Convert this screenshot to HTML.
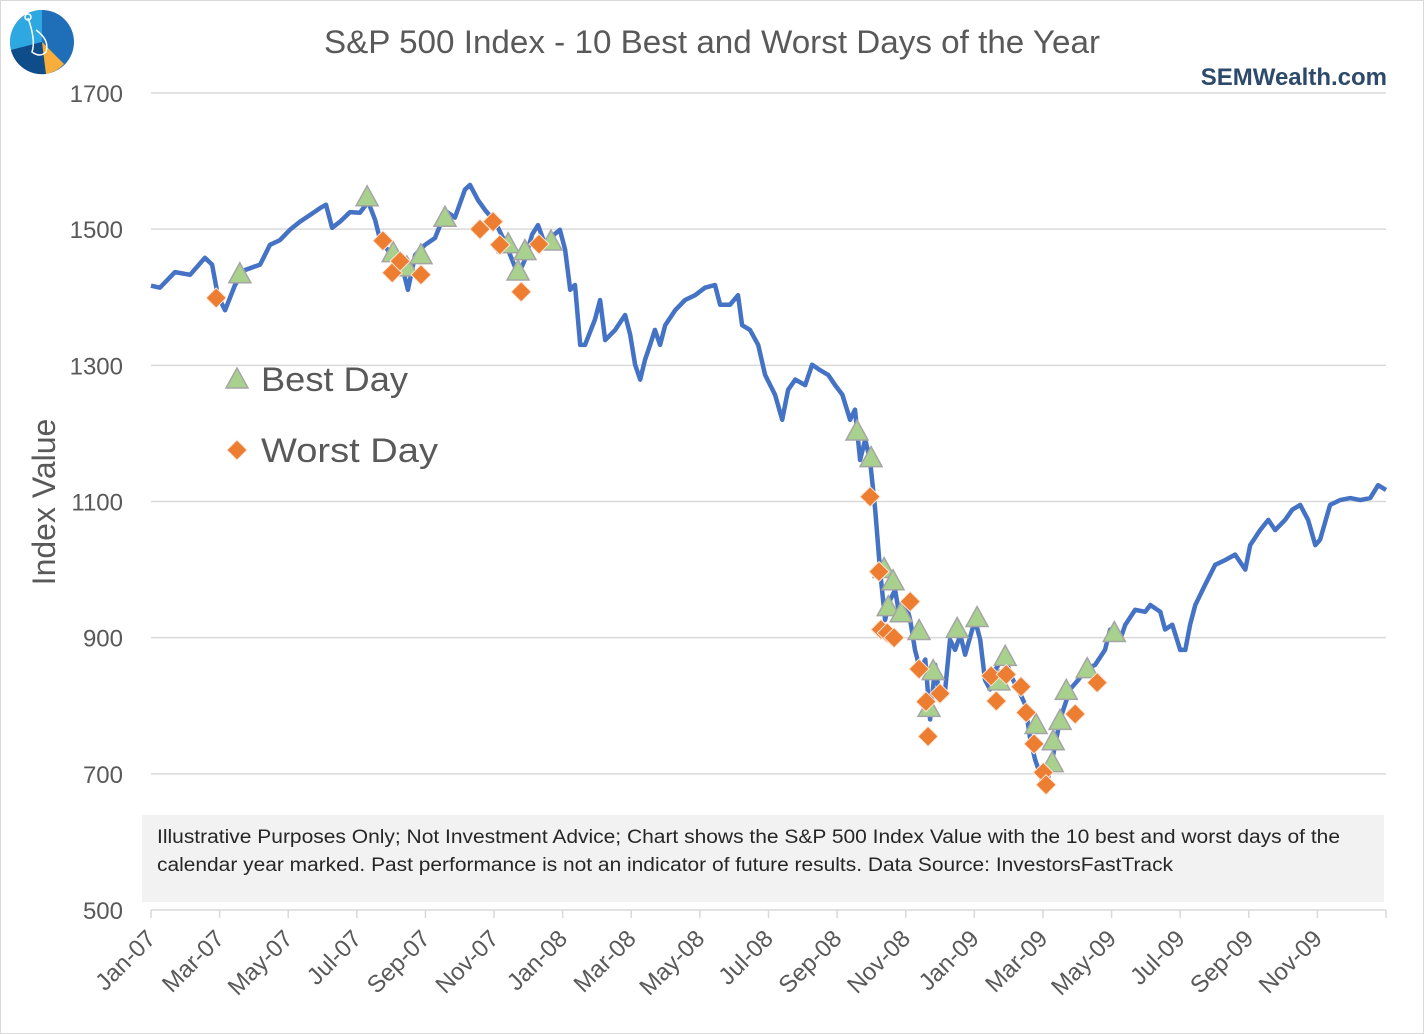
<!DOCTYPE html>
<html><head><meta charset="utf-8"><style>
html,body{margin:0;padding:0;background:#fff;}
svg{display:block;font-family:"Liberation Sans",sans-serif;}
</style></head><body>
<svg id="chart" width="1424" height="1034" viewBox="0 0 1424 1034" xmlns="http://www.w3.org/2000/svg">
<rect x="0.5" y="0.5" width="1423" height="1033" fill="#fff" stroke="#d9d9d9"/>
<g>
<circle cx="42" cy="42" r="32" fill="#1f6fb8"/>
<path d="M42 42 L42 10 A32 32 0 0 0 11 50 Z" fill="#2ea8e0"/>
<path d="M42 42 L11 50 A32 32 0 0 0 46 74 Z" fill="#0f4c8a"/>
<path d="M42 42 L46 74 A32 32 0 0 0 64 64 Z" fill="#f9ae3b"/>
<path d="M28 18 Q36 40 32 52 Q40 58 46 52 Q50 40 36 30" fill="none" stroke="#fff" stroke-width="1.5"/>
<circle cx="28" cy="17" r="3" fill="none" stroke="#fff" stroke-width="1.5"/>
</g>
<text x="712" y="53" text-anchor="middle" font-size="32" fill="#595959" textLength="776" lengthAdjust="spacingAndGlyphs">S&amp;P 500 Index - 10 Best and Worst Days of the Year</text>
<text x="1387" y="85" text-anchor="end" font-size="24" font-weight="bold" fill="#2e4a6b">SEMWealth.com</text>
<text transform="translate(55,502) rotate(-90)" text-anchor="middle" font-size="32" fill="#595959">Index Value</text>
<g id="grid"></g>
<g id="yticks"></g>
<g id="xaxis"></g>
<rect x="142" y="815" width="1242" height="87" fill="#f2f2f2"/>
<text x="157" y="843" font-size="19" fill="#262626" textLength="1183" lengthAdjust="spacingAndGlyphs">Illustrative Purposes Only; Not Investment Advice; Chart shows the S&amp;P 500 Index Value with the 10 best and worst days of the</text>
<text x="157" y="871" font-size="19" fill="#262626" textLength="1016" lengthAdjust="spacingAndGlyphs">calendar year marked.  Past performance is not an indicator of future results. Data Source: InvestorsFastTrack</text>
<g id="series"></g>
<g id="markers"></g>
<g>
<polygon points="237,368 248,388 226,388" fill="#a9d18e" stroke="#a5a5a5" stroke-width="1.5"/>
<text x="261" y="391" font-size="34" fill="#595959" textLength="147" lengthAdjust="spacingAndGlyphs">Best Day</text>
<polygon points="237,440 247,450 237,460 227,450" fill="#ed7d31" stroke="#fbe5d6" stroke-width="1"/>
<text x="261" y="462" font-size="34" fill="#595959" textLength="177" lengthAdjust="spacingAndGlyphs">Worst Day</text>
</g>
</svg>
<script>
const yTicks=[500,700,900,1100,1300,1500,1700];
const xLabels=["Jan-07","Mar-07","May-07","Jul-07","Sep-07","Nov-07","Jan-08","Mar-08","May-08","Jul-08","Sep-08","Nov-08","Jan-09","Mar-09","May-09","Jul-09","Sep-09","Nov-09"];
// months since Jan-2007
const lineMonths=[0,0.26,0.70,1.14,1.57,1.78,1.95,2.16,2.45,2.74,3.18,3.47,3.76,4.05,4.34,4.64,4.93,5.10,5.28,5.51,5.80,6.09,6.33,6.53,6.68,6.97,7.26,7.49,7.70,7.99,8.28,8.43,8.63,8.86,9.15,9.30,9.53,9.74,10.03,10.26,10.47,10.70,10.90,11.11,11.28,11.49,11.63,11.92,12.07,12.22,12.36,12.51,12.65,12.94,13.09,13.24,13.53,13.82,13.97,14.11,14.26,14.40,14.55,14.69,14.84,14.99,15.28,15.57,15.86,16.15,16.44,16.59,16.88,17.11,17.23,17.46,17.70,17.90,18.19,18.40,18.57,18.78,19.07,19.27,19.50,19.74,19.94,20.15,20.38,20.52,20.67,20.82,20.96,21.11,21.25,21.40,21.55,21.69,21.84,21.98,22.13,22.27,22.42,22.57,22.71,22.86,23.00,23.15,23.29,23.44,23.59,23.73,24.02,24.17,24.31,24.46,24.61,24.90,25.04,25.28,25.48,25.63,25.77,25.92,26.06,26.21,26.36,26.50,26.79,27.03,27.23,27.52,27.81,27.96,28.25,28.40,28.69,28.98,29.13,29.42,29.56,29.77,30.00,30.15,30.29,30.44,30.73,31.02,31.31,31.60,31.90,32.04,32.33,32.57,32.77,33.06,33.27,33.50,33.73,33.94,34.08,34.37,34.66,34.96,35.25,35.54,35.77,36.00];
const lineValues=[1417,1414,1437,1433,1458,1448,1402,1381,1418,1440,1448,1477,1484,1499,1511,1521,1531,1536,1502,1511,1525,1524,1540,1514,1484,1465,1458,1411,1462,1477,1487,1506,1525,1517,1558,1565,1543,1528,1511,1487,1462,1433,1455,1492,1506,1477,1487,1499,1470,1411,1418,1330,1330,1367,1396,1337,1352,1374,1345,1301,1279,1308,1330,1352,1330,1359,1381,1396,1403,1414,1418,1389,1389,1403,1359,1352,1330,1286,1257,1220,1264,1279,1271,1301,1293,1286,1271,1257,1220,1235,1161,1191,1161,1088,1000,926,956,970,926,956,926,882,853,868,780,860,809,824,897,882,904,875,926,897,838,824,853,875,846,824,802,750,721,699,677,706,743,780,824,838,853,860,882,912,897,919,941,938,948,938,912,919,882,882,919,948,978,1007,1014,1022,1000,1036,1058,1073,1058,1073,1088,1095,1073,1036,1044,1095,1102,1105,1102,1105,1124,1117];
const bestMonths=[2.59,6.30,7.06,7.46,7.87,8.57,10.41,10.70,10.90,11.66,20.58,20.99,21.37,21.49,21.63,21.87,22.39,22.68,22.80,23.50,24.08,24.72,24.90,25.80,26.27,26.30,26.50,26.68,27.29,28.08];
const bestValues=[1436,1549,1467,1446,1464,1519,1480,1440,1470,1484,1205,1166,1003,947,985,938,912,799,853,915,931,838,874,774,718,750,780,824,856,909];
const worstMonths=[1.90,6.76,7.03,7.26,7.87,9.59,9.97,10.17,10.79,11.31,20.96,21.22,21.28,21.46,21.66,22.13,22.39,22.59,22.65,23.00,24.49,24.64,24.93,25.36,25.51,25.74,26.01,26.09,26.94,27.58];
const worstValues=[1399,1483,1436,1453,1433,1500,1511,1477,1408,1478,1107,997,912,907,900,953,854,806,755,818,844,807,846,828,790,744,702,684,788,834];

const NS="http://www.w3.org/2000/svg";
const X0=151,X1=1386,Y0=910,Y1=93;
function xs(m){return X0+(X1-X0)*m/36;}
function ys(v){return Y0-(Y0-Y1)*(v-500)/1200;}
function mk(tag,attrs,parent){const e=document.createElementNS(NS,tag);for(const k in attrs)e.setAttribute(k,attrs[k]);parent.appendChild(e);return e;}
const grid=document.getElementById('grid'),yt=document.getElementById('yticks'),xa=document.getElementById('xaxis');
yTicks.forEach(v=>{
  if(v>500){const l=mk('line',{x1:X0,x2:X1,y1:ys(v),y2:ys(v),stroke:'#d9d9d9','stroke-width':1.5},grid);
  
  }
  const t=mk('text',{x:123,y:ys(v)+9,'text-anchor':'end','font-size':24,fill:'#595959'},yt);
  t.textContent=v;
  
  
});
const ax=mk('line',{x1:X0,x2:X1,y1:Y0,y2:Y0,stroke:'#d9d9d9','stroke-width':1.5},xa);


for(let i=0;i<=18;i++){
  const x=xs(i*2);
  const tk=mk('line',{x1:x,x2:x,y1:Y0,y2:Y0+8,stroke:'#d9d9d9','stroke-width':1.5},xa);
  
  
  if(i<18){
    const t=mk('text',{transform:`translate(${x+6},${Y0+30}) rotate(-45)`,'text-anchor':'end','font-size':24,fill:'#595959'},xa);
    t.textContent=xLabels[i];
    
    
  }
}
const series=document.getElementById('series');
const d=lineMonths.map((m,i)=>(i?'L':'M')+xs(m).toFixed(1)+' '+ys(lineValues[i]).toFixed(1)).join(' ');
const p=mk('path',{d:d,fill:'none',stroke:'#4472c4','stroke-width':4.5,'stroke-linejoin':'round'},series);


const mg=document.getElementById('markers');
bestMonths.forEach((m,i)=>{
  const x=xs(m),y=ys(bestValues[i]);
  const t=mk('polygon',{points:`${x},${y-10} ${x+11},${y+10} ${x-11},${y+10}`,fill:'#a9d18e',stroke:'#a5a5a5','stroke-width':1.5},mg);
  
  
});
worstMonths.forEach((m,i)=>{
  const x=xs(m),y=ys(worstValues[i]);
  const t=mk('polygon',{points:`${x},${y-10} ${x+10},${y} ${x},${y+10} ${x-10},${y}`,fill:'#ed7d31',stroke:'#fbe5d6','stroke-width':1},mg);
  
  
});
</script>
</body></html>
